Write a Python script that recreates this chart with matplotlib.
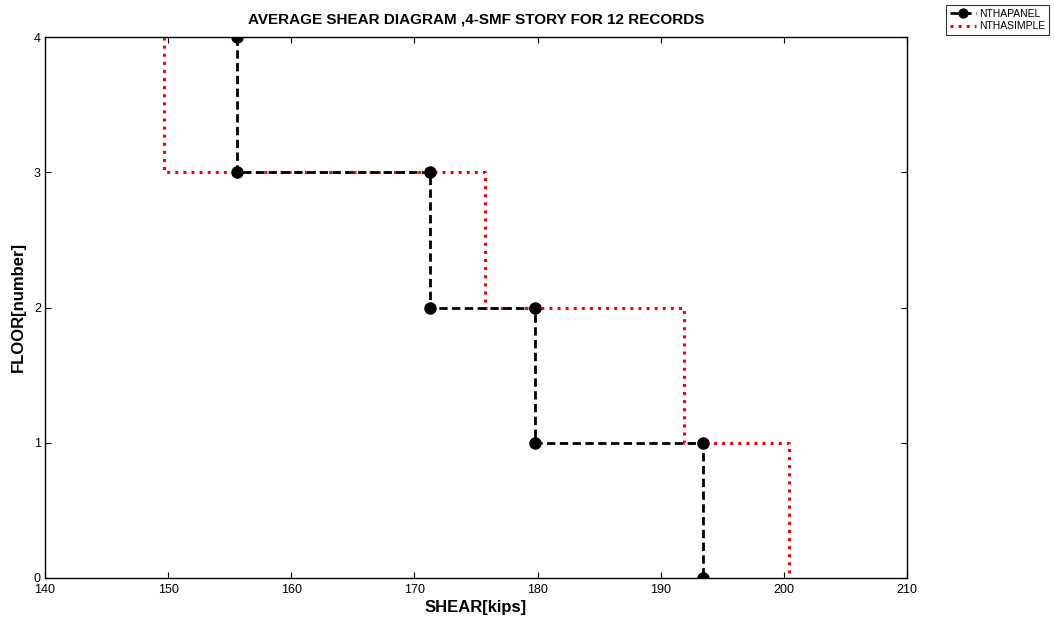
import matplotlib
matplotlib.use('agg')
import matplotlib.pyplot as plt

# average story shear per floor (floor 4 at top down to floor 1)
floors = [4, 3, 2, 1]
shear_panel = [155.6, 171.3, 179.8, 193.45]
shear_simple = [149.7, 175.7, 191.9, 200.4]


def step_profile(shears, floors):
    # each story shear is constant between its floor and the floor below
    xs, ys = [], []
    for v, f in zip(shears, floors):
        xs += [v, v]
        ys += [f, f - 1]
    return xs, ys


plt.rcParams['font.family'] = ['Liberation Sans', 'DejaVu Sans']

fig = plt.figure(figsize=(10.54, 6.26), dpi=100)
ax = fig.add_axes([45 / 1054, 1 - 578 / 626, 862 / 1054, 541 / 626])

xp, yp = step_profile(shear_panel, floors)
xs, ys = step_profile(shear_simple, floors)
ax.plot(xp, yp, color='black', linestyle='--', linewidth=2, dashes=(3, 1.6),
        marker='o', markersize=8, label='NTHAPANEL', zorder=3)
ax.plot(xs, ys, color='red', linestyle=':', linewidth=2.2, label='NTHASIMPLE', zorder=2)

ax.set_xlim(140, 210)
ax.set_ylim(0, 4)
ax.set_xticks(range(140, 211, 10))
ax.set_yticks(range(0, 5))
ax.tick_params(direction='in', top=True, right=True, labelsize=9, length=4)
ax.tick_params(axis='x', pad=4)
ax.tick_params(axis='y', pad=3)
for s in ax.spines.values():
    s.set_linewidth(1)

ax.set_xlabel('SHEAR[kips]', fontsize=12, fontweight='bold', labelpad=3)
ax.set_ylabel('FLOOR[number]', fontsize=12, fontweight='bold', labelpad=6)
ax.set_title('AVERAGE SHEAR DIAGRAM ,4-SMF STORY FOR 12 RECORDS', fontsize=11,
             fontweight='bold', pad=10)

leg = ax.legend(loc='upper left', bbox_to_anchor=(946 / 1054, 1 - 5 / 626),
                bbox_transform=fig.transFigure, fontsize=7.5, frameon=True,
                fancybox=False, edgecolor='black', handlelength=2.5,
                borderpad=0.35, labelspacing=0.25, handletextpad=0.3,
                borderaxespad=0, markerscale=0.8)
leg.get_frame().set_linewidth(0.8)

fig.savefig('out.png', dpi=100, facecolor='white')
